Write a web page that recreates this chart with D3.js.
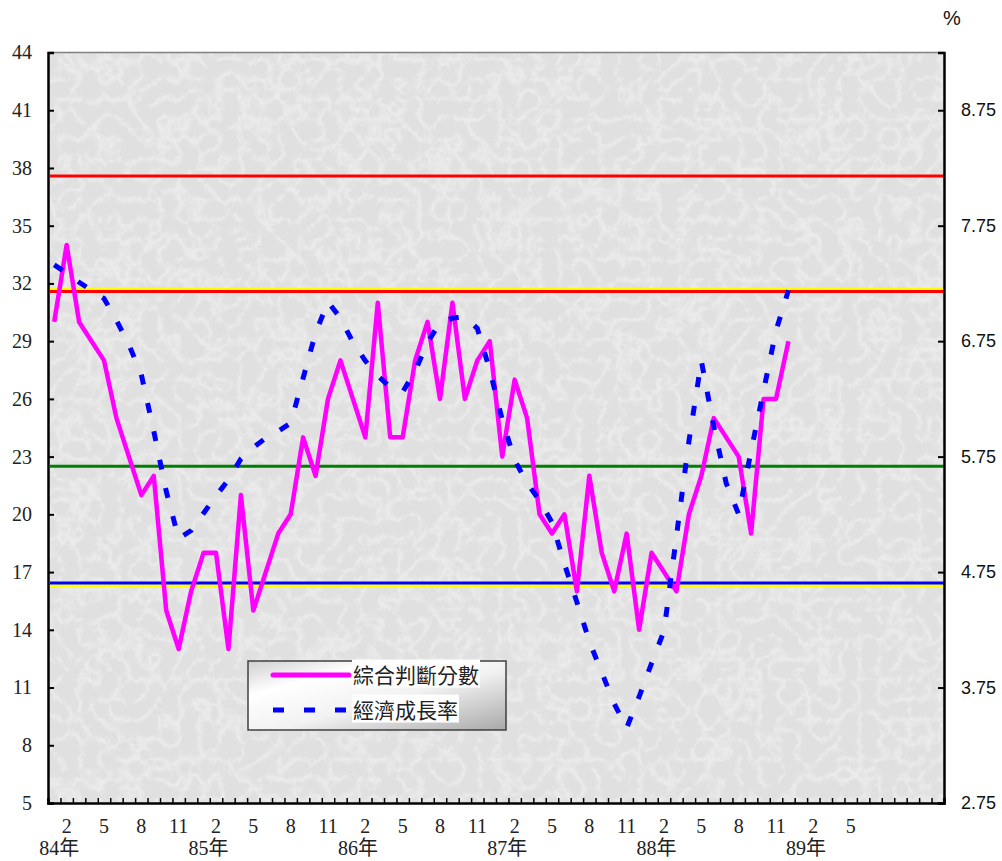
<!DOCTYPE html>
<html>
<head>
<meta charset="utf-8">
<script src="https://cdn.jsdelivr.net/npm/d3@7"></script>
<style>
  html, body { margin: 0; padding: 0; background: #ffffff; }
  svg { display: block; }
</style>
</head>
<body>
<svg id="chart" width="1002" height="861"></svg>
<script>
// ---------------- data ----------------
const years = ["84年", "85年", "86年", "87年", "88年", "89年"];
const monthTickLabels = ["2", "5", "8", "11"];
const lastYearTickLabels = ["2", "5"];
const monthsPerYear = 12;

// 綜合判斷分數 (monthly, 84/1 - 88/12)
const score = [30,34,30,29,28,25,23,21,22,15,13,16,
               18,18,13,21,15,17,19,20,24,22,26,28,
               26,24,31,24,24,28,30,26,31,26,28,29,
               23,27,25,20,19,20,16,22,18,16,19,14,
               18,17,16,20,22,25,24,23,19,26,26,29];

// 經濟成長率 (%, right axis, 84/1 - 88/12)
const growth = [7.41,7.34,7.26,7.19,7.12,6.93,6.72,6.46,5.97,5.45,5.04,5.11,
                5.26,5.41,5.55,5.73,5.83,5.91,5.97,6.04,6.43,6.82,7.09,6.95,
                6.74,6.58,6.45,6.35,6.31,6.49,6.74,6.91,6.95,6.96,6.86,6.50,
                6.07,5.72,5.52,5.37,5.18,4.82,4.49,4.15,3.88,3.61,3.40,3.67,
                3.96,4.24,5.06,5.88,6.58,6.01,5.52,5.25,5.80,6.32,6.84,7.19];

// light signal reference lines (left axis)
const refValues = [37.58, 31.68, 31.58, 22.5, 16.29, 16.43];
const refColors = ["#ff0000", "#ffff00", "#ff0000", "#008000", "#ffff00", "#0000ff"];

const leftTicks = [5, 8, 11, 14, 17, 20, 23, 26, 29, 32, 35, 38, 41, 44];
const rightTicks = [2.75, 3.75, 4.75, 5.75, 6.75, 7.75, 8.75];
const legendLabels = ["綜合判斷分數", "經濟成長率"];

// categories built from the year list
const categories = [];
years.forEach((y, yi) => {
  for (let m = 1; m <= monthsPerYear; m++) categories.push({ year: y, month: m, idx: yi * 12 + m - 1 });
});
const monthLabel = c => {
  const last = c.year === years[years.length - 1];
  const list = last ? lastYearTickLabels : monthTickLabels;
  return list.includes(String(c.month)) ? String(c.month) : "";
};

// ---------------- layout ----------------
const L = 48, R = 944, T = 52.5, B = 803;
const svg = d3.select("#chart");

const x = d3.scaleBand().domain(d3.range(categories.length)).range([L, R]).paddingInner(0).paddingOuter(0);
const xc = i => x(i) + x.bandwidth() / 2;
const xb = d3.scaleLinear().domain([0, categories.length]).range([L, R]);
const yL = d3.scaleLinear().domain([5, 44]).range([B, T]);
const yR = d3.scaleLinear().domain([2.75, 9.25]).range([B, T]);

// ---------------- defs: texture + legend gradient ----------------
const defs = svg.append("defs");
const f = defs.append("filter").attr("id", "tex").attr("x", 0).attr("y", 0).attr("width", "100%").attr("height", "100%");
f.append("feTurbulence").attr("type", "turbulence").attr("baseFrequency", "0.05").attr("numOctaves", 3).attr("seed", 7).attr("result", "t");
f.append("feColorMatrix").attr("in", "t").attr("type", "matrix")
  .attr("values", "0 0 0 0 1  0 0 0 0 1  0 0 0 0 1  0 0 0 -1.2 0.42").attr("result", "w");
f.append("feComposite").attr("in", "w").attr("in2", "SourceGraphic").attr("operator", "in");

const lg = defs.append("linearGradient").attr("id", "lgrad").attr("x1", "0%").attr("y1", "0%").attr("x2", "100%").attr("y2", "100%");
lg.append("stop").attr("offset", "0%").attr("stop-color", "#cfcfcf");
lg.append("stop").attr("offset", "25%").attr("stop-color", "#ffffff");
lg.append("stop").attr("offset", "55%").attr("stop-color", "#f2f2f2");
lg.append("stop").attr("offset", "100%").attr("stop-color", "#a9a9a9");

// ---------------- plot background ----------------
svg.append("rect").attr("x", L).attr("y", T).attr("width", R - L).attr("height", B - T).attr("fill", "#e0e0e0");
svg.append("rect").attr("x", L).attr("y", T).attr("width", R - L).attr("height", B - T).attr("fill", "#ffffff").attr("filter", "url(#tex)");
// top border
svg.append("line").attr("x1", L).attr("x2", R).attr("y1", T).attr("y2", T).attr("stroke", "#808080").attr("stroke-width", 1.5);

// ---------------- reference lines ----------------
svg.append("g").selectAll("line").data(refValues).join("line")
  .attr("x1", L + 2).attr("x2", R)
  .attr("y1", d => yL(d)).attr("y2", d => yL(d))
  .attr("stroke", (d, i) => refColors[i]).attr("stroke-width", 3);

// ---------------- series ----------------
const scoreLine = d3.line().x((d, i) => xc(i)).y(d => yL(d));
svg.append("path").datum(score).attr("d", scoreLine)
  .attr("fill", "none").attr("stroke", "#ff00ff").attr("stroke-width", 4.5)
  .attr("stroke-linejoin", "round");

const growthLine = d3.line().x((d, i) => xc(i)).y(d => yR(d));
svg.append("path").datum(growth).attr("d", growthLine)
  .attr("fill", "none").attr("stroke", "#0000ff").attr("stroke-width", 5)
  .attr("stroke-dasharray", "10,19");

// ---------------- axes ----------------
const axisFontSerif = "'Liberation Serif', 'Times New Roman', serif";
const axisFontSans = "'Liberation Sans', Arial, sans-serif";

const gL = svg.append("g").attr("transform", `translate(${L},0)`)
  .call(d3.axisLeft(yL).tickValues(leftTicks).tickSize(-6).tickPadding(16).tickFormat(d3.format("d")));
gL.select(".domain").attr("stroke", "#000").attr("stroke-width", 2.5);
gL.selectAll(".tick line").attr("stroke", "#000").attr("stroke-width", 2);
gL.selectAll("text").attr("font-family", axisFontSerif).attr("font-size", 20).attr("fill", "#222");

const gR = svg.append("g").attr("transform", `translate(${R},0)`)
  .call(d3.axisRight(yR).tickValues(rightTicks).tickSize(-6).tickPadding(17).tickFormat(d3.format(".2f")));
gR.select(".domain").attr("stroke", "#000").attr("stroke-width", 2.5);
gR.selectAll(".tick line").attr("stroke", "#000").attr("stroke-width", 2);
gR.selectAll("text").attr("font-family", axisFontSans).attr("font-size", 18).attr("fill", "#111");

// bottom axis: month boundary ticks
const gB = svg.append("g").attr("transform", `translate(0,${B})`)
  .call(d3.axisBottom(xb).tickValues(d3.range(categories.length + 1)).tickSize(-5).tickFormat(""));
gB.select(".domain").attr("stroke", "#000").attr("stroke-width", 2.5);
gB.selectAll(".tick line").attr("stroke", "#000").attr("stroke-width", 1.5);

// month labels
const gM = svg.append("g").attr("transform", `translate(0,${B})`)
  .call(d3.axisBottom(x).tickSize(0).tickPadding(16).tickFormat(i => monthLabel(categories[i])));
gM.select(".domain").remove();
gM.selectAll("text").attr("font-family", axisFontSerif).attr("font-size", 20).attr("fill", "#222");

// year labels
const gY = svg.append("g").attr("transform", `translate(0,${B})`)
  .call(d3.axisBottom(x).tickSize(0).tickPadding(38)
    .tickFormat(i => categories[i].month === 1 ? categories[i].year : ""));
gY.select(".domain").remove();
gY.selectAll("text").attr("font-family", "'Liberation Serif', 'Noto Sans CJK TC', serif")
  .attr("font-size", 20).attr("fill", "#222").attr("dx", 5);

// % unit label
svg.append("text").attr("x", 952).attr("y", 25).attr("text-anchor", "middle")
  .attr("font-family", axisFontSans).attr("font-size", 20).attr("fill", "#111").text("%");

// ---------------- legend ----------------
const lgG = svg.append("g").attr("transform", "translate(248,661)");
lgG.append("rect").attr("width", 258).attr("height", 69).attr("fill", "url(#lgrad)")
  .attr("stroke", "#404040").attr("stroke-width", 1.5);
const cjk = "'Noto Sans CJK TC', 'Noto Sans CJK SC', sans-serif";
const rowsY = [14, 49];
legendLabels.forEach((lab, i) => {
  const t = lgG.append("text").attr("x", 105).attr("y", rowsY[i]).attr("dy", "0.36em")
    .attr("font-family", cjk).attr("font-size", 21).attr("fill", "#222").text(lab);
  const bb = t.node().getBBox();
  lgG.insert("rect", "text").attr("x", bb.x - 1).attr("y", bb.y + 1).attr("width", bb.width + 2).attr("height", bb.height - 2).attr("fill", "#ffffff");
});
lgG.append("line").attr("x1", 25).attr("x2", 101).attr("y1", rowsY[0]).attr("y2", rowsY[0])
  .attr("stroke", "#ff00ff").attr("stroke-width", 5).attr("stroke-linecap", "round");
lgG.append("line").attr("x1", 25).attr("x2", 99).attr("y1", rowsY[1]).attr("y2", rowsY[1])
  .attr("stroke", "#0000ff").attr("stroke-width", 5).attr("stroke-dasharray", "11,20");
</script>
</body>
</html>
